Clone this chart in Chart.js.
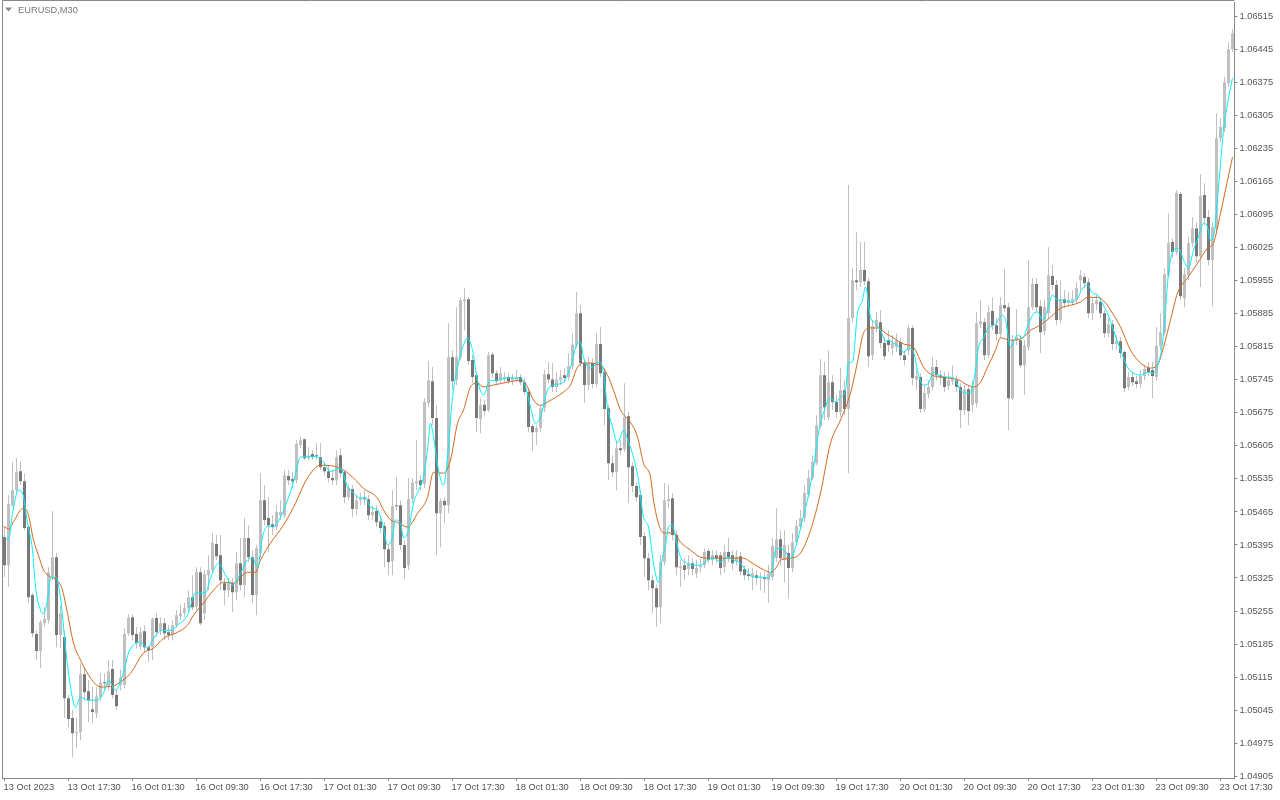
<!DOCTYPE html>
<html><head><meta charset="utf-8">
<script src="https://cdn.jsdelivr.net/npm/chart.js@4.4.1/dist/chart.umd.min.js"></script>
<style>html,body{margin:0;padding:0;background:#fff}#wrap{width:1280px;height:800px;position:relative}</style>
</head><body><div id="wrap"><canvas id="c" width="1280" height="800"></canvas></div>
<script>
const symbolLabel = "EURUSD,M30";
const timeLabels = ["13 Oct 2023","13 Oct 17:30","16 Oct 01:30","16 Oct 09:30","16 Oct 17:30","17 Oct 01:30","17 Oct 09:30","17 Oct 17:30","18 Oct 01:30","18 Oct 09:30","18 Oct 17:30","19 Oct 01:30","19 Oct 09:30","19 Oct 17:30","20 Oct 01:30","20 Oct 09:30","20 Oct 17:30","23 Oct 01:30","23 Oct 09:30","23 Oct 17:30"];
const barsPerLabel = 16;
const priceTicks = [1.04905,1.04975,1.05045,1.05115,1.05185,1.05255,1.05325,1.05395,1.05465,1.05535,1.05605,1.05675,1.05745,1.05815,1.05885,1.05955,1.06025,1.06095,1.06165,1.06235,1.06305,1.06375,1.06445,1.06515];

const opens = [1.05412,1.05352,1.05479,1.05511,1.05551,1.0553,1.05433,1.05289,1.05206,1.0517,1.05229,1.05236,1.05327,1.05369,1.05204,1.052,1.0507,1.05028,1.04996,1.04998,1.05121,1.05085,1.05047,1.05038,1.05072,1.05104,1.05096,1.05132,1.05077,1.05098,1.05098,1.05208,1.05242,1.05206,1.0518,1.05212,1.05178,1.05178,1.0524,1.05214,1.05229,1.0521,1.05204,1.05225,1.05244,1.0525,1.05261,1.05284,1.05265,1.05337,1.0525,1.05331,1.05342,1.05397,1.05373,1.05314,1.05299,1.05314,1.05295,1.05356,1.0531,1.0541,1.05369,1.05289,1.05378,1.0549,1.05452,1.05439,1.05433,1.05458,1.05458,1.05541,1.05535,1.05532,1.05607,1.05619,1.05579,1.05588,1.05585,1.05581,1.0556,1.05551,1.05537,1.05532,1.05585,1.05549,1.05496,1.05513,1.05471,1.0549,1.05494,1.05492,1.05458,1.05467,1.05445,1.05435,1.05386,1.05361,1.05479,1.05479,1.05395,1.05352,1.05492,1.05526,1.05532,1.05524,1.05696,1.05742,1.05664,1.05462,1.05488,1.05479,1.05793,1.05744,1.05793,1.05912,1.05916,1.05787,1.05755,1.05662,1.05692,1.05681,1.05799,1.05759,1.05744,1.05749,1.05751,1.05744,1.05746,1.05751,1.0574,1.05719,1.05647,1.05634,1.05643,1.05685,1.05757,1.05746,1.0573,1.05744,1.05755,1.05751,1.05774,1.05819,1.05886,1.05781,1.05734,1.05781,1.05736,1.05821,1.05761,1.05685,1.05568,1.05549,1.056,1.05598,1.05668,1.05562,1.0552,1.05501,1.05414,1.05367,1.0532,1.05303,1.05263,1.05359,1.05488,1.05494,1.05416,1.05346,1.05352,1.05344,1.05356,1.05335,1.05348,1.05352,1.05382,1.05363,1.05373,1.05373,1.05348,1.0538,1.05373,1.05361,1.05371,1.05344,1.05333,1.05327,1.05331,1.05325,1.05327,1.0532,1.05327,1.05367,1.05407,1.05363,1.05378,1.05346,1.05401,1.05433,1.05452,1.05501,1.05537,1.05568,1.05647,1.05755,1.05666,1.0574,1.05698,1.05677,1.05723,1.05683,1.05876,1.05956,1.05952,1.05978,1.05954,1.05797,1.05857,1.05867,1.05823,1.05829,1.05812,1.05814,1.05825,1.05797,1.05808,1.05855,1.05746,1.05751,1.05683,1.05715,1.0573,1.05772,1.05755,1.05751,1.05732,1.05742,1.05744,1.0573,1.05681,1.05725,1.05692,1.05696,1.05863,1.05867,1.05797,1.05891,1.05861,1.05842,1.05903,1.05899,1.05706,1.05829,1.05829,1.05776,1.05814,1.05899,1.05948,1.05901,1.05848,1.05886,1.05965,1.05946,1.05872,1.05916,1.05908,1.05908,1.05914,1.05956,1.05963,1.05952,1.05886,1.05906,1.0591,1.05886,1.05844,1.05863,1.05821,1.05827,1.05804,1.0573,1.05751,1.05742,1.05736,1.05753,1.0577,1.05766,1.05751,1.05817,1.05846,1.05967,1.06037,1.06016,1.06139,1.05918,1.05967,1.06035,1.06066,1.06007,1.06137,1.0609,1.05999,1.06066,1.06257,1.06279,1.06374,1.06446];
const highs = [1.05433,1.05501,1.05571,1.05579,1.05571,1.05547,1.05437,1.05293,1.05214,1.05236,1.05263,1.05348,1.05467,1.05378,1.05267,1.05214,1.05077,1.05045,1.0503,1.05144,1.05134,1.05108,1.05094,1.05094,1.05123,1.05123,1.05151,1.05151,1.05087,1.0513,1.05219,1.05248,1.05248,1.05221,1.05221,1.05225,1.05182,1.05242,1.0525,1.05242,1.0524,1.05225,1.05236,1.05257,1.05267,1.05272,1.05299,1.05331,1.05348,1.05348,1.05342,1.05373,1.0542,1.05416,1.05416,1.05325,1.05325,1.05325,1.0538,1.0541,1.05452,1.05437,1.05384,1.05395,1.05547,1.05522,1.05496,1.05458,1.05479,1.0549,1.05554,1.05554,1.05549,1.05617,1.05624,1.05621,1.05602,1.05596,1.05611,1.05611,1.05571,1.05564,1.05554,1.05596,1.056,1.05554,1.05522,1.05522,1.05501,1.05505,1.05511,1.05501,1.05479,1.05479,1.05458,1.05443,1.05395,1.05511,1.05539,1.0549,1.05405,1.05537,1.05537,1.05617,1.05543,1.05706,1.05785,1.05772,1.05692,1.05494,1.05496,1.05865,1.05808,1.05899,1.0592,1.05939,1.0592,1.05797,1.05761,1.05706,1.05702,1.05804,1.05804,1.05766,1.05772,1.05761,1.05759,1.05757,1.05766,1.05757,1.05749,1.05725,1.05651,1.05649,1.05692,1.05766,1.05783,1.05781,1.05761,1.05766,1.0577,1.05802,1.05844,1.05931,1.05903,1.05787,1.05793,1.05791,1.05844,1.05857,1.0577,1.05692,1.05585,1.05617,1.05617,1.05738,1.05677,1.05571,1.05528,1.05511,1.05422,1.05378,1.05331,1.0531,1.05373,1.05526,1.05522,1.05505,1.05426,1.05363,1.05367,1.05373,1.05367,1.05363,1.05367,1.05388,1.05388,1.05384,1.05384,1.0538,1.05395,1.0541,1.05384,1.05384,1.0538,1.05352,1.05346,1.05346,1.05342,1.05337,1.05337,1.05352,1.0541,1.05473,1.05426,1.05426,1.05395,1.0542,1.05448,1.05469,1.05522,1.05554,1.05585,1.0567,1.05789,1.05783,1.05808,1.05755,1.05713,1.0577,1.05744,1.06158,1.05982,1.06058,1.06037,1.06037,1.05961,1.05872,1.05889,1.05893,1.05834,1.0585,1.0584,1.05844,1.05834,1.05808,1.05861,1.05861,1.05766,1.05759,1.05734,1.05744,1.05793,1.05787,1.05766,1.05761,1.05761,1.05776,1.05755,1.05738,1.05734,1.05734,1.05744,1.05889,1.05914,1.05876,1.05903,1.0592,1.05876,1.0592,1.0598,1.05908,1.0584,1.05895,1.0584,1.05829,1.05999,1.05961,1.05961,1.05914,1.05914,1.06026,1.05988,1.05956,1.05956,1.05935,1.05931,1.05935,1.05952,1.05978,1.05971,1.05961,1.05918,1.05925,1.0592,1.05893,1.05876,1.05872,1.0584,1.05836,1.05808,1.05761,1.05761,1.05753,1.05766,1.05776,1.05783,1.05783,1.05857,1.05886,1.05982,1.06098,1.06045,1.06147,1.06143,1.05982,1.06049,1.0609,1.06079,1.06181,1.06162,1.06105,1.06079,1.0631,1.063,1.06387,1.06461,1.06489];
const lows = [1.05327,1.05306,1.05475,1.05507,1.05522,1.05426,1.05272,1.052,1.05151,1.05134,1.05221,1.05229,1.0532,1.05178,1.05176,1.05028,1.05009,1.04945,1.04964,1.04981,1.05066,1.05019,1.05017,1.05028,1.05066,1.05087,1.05087,1.0507,1.05045,1.05087,1.05091,1.05202,1.05193,1.05176,1.05172,1.05168,1.05147,1.05151,1.052,1.05204,1.05193,1.05193,1.05193,1.05219,1.05236,1.05242,1.05253,1.05257,1.05257,1.05225,1.05236,1.05299,1.05335,1.05363,1.05299,1.05267,1.05284,1.05253,1.05278,1.05299,1.05284,1.05359,1.05272,1.05246,1.05367,1.05437,1.0538,1.05416,1.05426,1.05448,1.05452,1.05522,1.05515,1.05526,1.056,1.05575,1.05575,1.05575,1.05575,1.05554,1.05543,1.05528,1.05522,1.05522,1.05537,1.05484,1.0549,1.05454,1.05458,1.05479,1.05479,1.05448,1.05448,1.05433,1.0542,1.05348,1.05331,1.05331,1.05469,1.05384,1.05323,1.05342,1.05484,1.05511,1.05511,1.05515,1.05687,1.05649,1.05373,1.0539,1.05441,1.05462,1.05723,1.05734,1.05787,1.0585,1.05776,1.05738,1.05634,1.05632,1.0567,1.05677,1.05749,1.05734,1.05738,1.0574,1.05736,1.05734,1.0574,1.05734,1.05713,1.05634,1.05594,1.05607,1.05634,1.05677,1.05738,1.05719,1.05719,1.05734,1.0574,1.05744,1.05766,1.05812,1.05772,1.05696,1.05723,1.05727,1.0573,1.05751,1.05649,1.05532,1.05539,1.05511,1.05585,1.05592,1.05484,1.05507,1.05486,1.05395,1.05327,1.05299,1.0525,1.05221,1.05229,1.05352,1.05473,1.05405,1.05331,1.05306,1.0532,1.05331,1.05331,1.05325,1.05337,1.05346,1.05356,1.05352,1.05356,1.05331,1.05335,1.05359,1.05342,1.05352,1.05331,1.0532,1.0532,1.05299,1.0531,1.05299,1.05293,1.05272,1.0532,1.05359,1.05352,1.05316,1.05282,1.05337,1.05395,1.05426,1.05443,1.05494,1.05532,1.05564,1.05643,1.0566,1.0566,1.05681,1.05664,1.05666,1.0567,1.05547,1.05867,1.05935,1.05942,1.05946,1.05772,1.05787,1.05846,1.05812,1.05787,1.05804,1.05797,1.05804,1.05787,1.05776,1.05797,1.05734,1.05723,1.05675,1.05677,1.05706,1.05723,1.05744,1.05734,1.05719,1.05723,1.05734,1.05719,1.05643,1.0567,1.05649,1.05677,1.05687,1.05855,1.05787,1.05791,1.0585,1.05829,1.05834,1.05889,1.05638,1.05702,1.05819,1.0577,1.05713,1.05808,1.05893,1.05889,1.05802,1.0584,1.05876,1.05935,1.05861,1.05865,1.05897,1.05901,1.05903,1.05908,1.05935,1.05939,1.05876,1.05872,1.05893,1.05876,1.05834,1.05836,1.05808,1.05808,1.05791,1.05719,1.05723,1.05732,1.05727,1.05727,1.05744,1.05753,1.05706,1.05744,1.05808,1.0584,1.05961,1.06003,1.0601,1.05914,1.05899,1.05956,1.06026,1.05994,1.05942,1.06073,1.05988,1.05901,1.06058,1.06249,1.0627,1.06366,1.0644];
const closes = [1.05352,1.05482,1.05511,1.05549,1.0553,1.05431,1.05284,1.05208,1.0517,1.05231,1.05238,1.05337,1.05369,1.05204,1.0525,1.0507,1.05026,1.04996,1.04998,1.05121,1.05083,1.05066,1.05041,1.05074,1.05104,1.05102,1.05127,1.05077,1.05053,1.05113,1.05206,1.0524,1.05204,1.05187,1.0521,1.05178,1.05172,1.05238,1.0521,1.05229,1.05208,1.05204,1.05225,1.05246,1.0525,1.05261,1.05284,1.05263,1.05337,1.05229,1.05333,1.05342,1.05399,1.05371,1.0532,1.05299,1.05314,1.05295,1.05356,1.0531,1.0541,1.05369,1.05289,1.05388,1.0549,1.05448,1.05437,1.05433,1.05465,1.05465,1.05543,1.05532,1.0553,1.05609,1.05617,1.05579,1.05583,1.05581,1.05583,1.0556,1.05551,1.05537,1.05532,1.05581,1.05547,1.05496,1.05515,1.05471,1.0549,1.05494,1.05492,1.05458,1.05465,1.05443,1.05431,1.05386,1.05359,1.05477,1.05477,1.05395,1.05346,1.05492,1.05528,1.0553,1.05522,1.05698,1.05744,1.05664,1.05462,1.05488,1.05479,1.05793,1.05742,1.05793,1.05914,1.05916,1.05785,1.05751,1.05664,1.05692,1.05679,1.05797,1.05759,1.05742,1.05759,1.05751,1.05742,1.05749,1.05751,1.0574,1.05719,1.05645,1.05634,1.05643,1.05685,1.05757,1.05746,1.0573,1.05746,1.05751,1.05749,1.05774,1.05819,1.05886,1.05781,1.05734,1.05781,1.05736,1.05821,1.05759,1.05683,1.05568,1.05549,1.056,1.05596,1.05666,1.0556,1.0552,1.05496,1.05412,1.05367,1.0532,1.05303,1.05263,1.05359,1.0549,1.05492,1.05416,1.05348,1.0535,1.05342,1.05356,1.05344,1.05346,1.05352,1.0538,1.05363,1.05373,1.05367,1.05346,1.0538,1.05369,1.05356,1.05371,1.05339,1.05331,1.05329,1.05335,1.05325,1.05327,1.05323,1.05335,1.05393,1.05407,1.05367,1.05395,1.05346,1.05401,1.05435,1.05452,1.05505,1.05537,1.05571,1.05649,1.05755,1.05687,1.0574,1.05698,1.05677,1.05723,1.05683,1.05876,1.05956,1.05952,1.05978,1.05954,1.05795,1.05859,1.05872,1.05823,1.05795,1.05819,1.05823,1.05829,1.05797,1.05787,1.05855,1.05749,1.05753,1.05683,1.05717,1.0573,1.05772,1.05755,1.05751,1.0573,1.05744,1.05746,1.0573,1.05681,1.05725,1.05679,1.05732,1.05865,1.0587,1.05797,1.05889,1.05861,1.05842,1.05903,1.05897,1.05706,1.05829,1.05836,1.05776,1.05817,1.05899,1.05948,1.05899,1.05846,1.05899,1.05967,1.05946,1.05872,1.05916,1.05908,1.05914,1.05916,1.05939,1.05967,1.0595,1.05886,1.05908,1.05914,1.05886,1.05844,1.05863,1.05821,1.05827,1.05802,1.05727,1.05751,1.0574,1.05736,1.05753,1.05768,1.05761,1.05753,1.05817,1.05846,1.05969,1.06035,1.06016,1.06141,1.05922,1.05969,1.06035,1.06066,1.06007,1.06135,1.06088,1.05999,1.06069,1.06257,1.06281,1.06376,1.06446,1.0648];

const fastMaBar = [0,1,2,3.5,4.5,5.75,7,7.75,9,9.75,10.75,11.5,12.75,14,15.25,16.5,17.75,19,20.75,23.25,24.75,26,27.75,29.75,31,32.25,34,35.75,37.25,39.5,41.5,43.25,45.75,47.75,50.25,51.5,53.5,55.25,57,59,60.75,62,63.25,64.5,65.75,67.25,69,70.75,72.25,74,75.75,78.25,79.75,81.5,84,85.75,87.25,89,90.25,91.5,93.25,94.5,95.75,97,97.75,99,99.75,101,102.25,103.5,104.75,105.75,106.5,107.25,108.5,109.75,110.75,112,113.5,114.75,115.75,117,118.25,119.75,121.5,122.75,125.75,129,130.25,131.5,132.75,134,135.75,137.25,139.75,141.5,143.25,144,144.75,146.5,148.25,149,149.75,150.75,152,153.25,154.75,156,157.25,158.5,159.75,161,162.25,163.5,164.5,165.25,166,167,167.75,169,170.75,172.25,174,175.75,177.25,179,180.75,182.25,184,185.75,187.25,189,190.75,192,192.75,194,195.25,196.5,197.75,199.5,201,202.25,203.5,204.75,206.5,207.75,209,210.25,211,212,213.25,214.5,215.25,216.5,217.75,219,220.25,221,222.25,224,224.75,226,227.25,228.5,229.75,231,232.25,233.5,235.75,237.25,239,240.25,241.5,242.75,243.5,244.75,246,247.75,249.5,250.25,251.5,253.25,254.5,255.75,257,258.25,259.5,260.75,262,263.25,264.75,266.5,268.25,269.5,270.75,272,273.25,274.5,275.75,277.25,279,280.75,282.25,284,285.75,287.25,288.5,289.5,290.25,291,292.25,293.5,294.75,296,297.25,298.5,299.75,300.75,301.5,302.25,303.5,304.75,306,307];
const fastMaVal = [1.05412,1.05405,1.05462,1.05511,1.05505,1.05441,1.05384,1.05306,1.05257,1.0525,1.05278,1.05325,1.05327,1.05284,1.05178,1.05094,1.05051,1.05072,1.05066,1.05066,1.05081,1.05108,1.05087,1.05125,1.05166,1.05183,1.05189,1.05176,1.05197,1.05214,1.05214,1.05225,1.05246,1.05293,1.05293,1.05325,1.05356,1.05331,1.0531,1.05335,1.05363,1.05367,1.05348,1.05412,1.05435,1.05433,1.05454,1.0549,1.05528,1.05581,1.05583,1.05581,1.05571,1.05551,1.05558,1.05518,1.05505,1.05494,1.05496,1.05475,1.05469,1.05441,1.05395,1.05412,1.05448,1.05441,1.0541,1.05426,1.05484,1.05511,1.05539,1.05596,1.05653,1.05624,1.05554,1.05522,1.05581,1.05708,1.05781,1.05819,1.05834,1.05808,1.05744,1.05713,1.05744,1.05744,1.05749,1.05749,1.0573,1.05687,1.05653,1.05666,1.05723,1.05734,1.0574,1.05772,1.05823,1.05825,1.05793,1.0577,1.05781,1.05783,1.05759,1.05687,1.05645,1.05611,1.05638,1.05613,1.05581,1.05532,1.05454,1.05433,1.05356,1.05316,1.05369,1.05395,1.05433,1.05437,1.05412,1.05369,1.05356,1.05352,1.05352,1.05363,1.05367,1.05359,1.05369,1.05363,1.05356,1.05337,1.05327,1.05327,1.05325,1.05346,1.05384,1.05388,1.0538,1.05367,1.0539,1.05448,1.05501,1.0556,1.05632,1.05675,1.05706,1.05698,1.05708,1.05723,1.05781,1.05783,1.05886,1.05914,1.05942,1.05878,1.05865,1.0585,1.05827,1.05829,1.05823,1.05812,1.05802,1.05812,1.05804,1.05755,1.05734,1.05738,1.05761,1.05755,1.05751,1.05749,1.05723,1.05717,1.05717,1.05766,1.05814,1.05834,1.05855,1.05863,1.05882,1.05872,1.05814,1.0584,1.05834,1.05857,1.05882,1.05889,1.05872,1.05893,1.05925,1.05914,1.05914,1.0591,1.05918,1.05939,1.05946,1.05929,1.05925,1.05906,1.05886,1.0585,1.05808,1.05772,1.05759,1.05755,1.05761,1.05759,1.05781,1.05823,1.05893,1.05971,1.0602,1.06024,1.05999,1.05982,1.0602,1.06048,1.06077,1.06069,1.06041,1.06048,1.06154,1.06274,1.06342,1.06385];
const slowMaBar = [-0.25,1,2.5,4,5,6,7.25,8.5,9.75,11.5,13.25,14.5,15.75,17.25,19,21.5,24,27.25,28.5,31.5,34.75,37.25,39.75,43.25,45.75,47.25,49.75,52.25,54.75,57.25,60.75,62.75,64,66.5,69.75,72.25,75.75,79,82.25,84.75,87.25,89.75,93.25,94.75,96.5,98.25,100.75,103.25,105.75,107.25,109.75,111.5,113.25,114.75,116.5,118.25,119.75,122.25,125.75,129,130.75,132.25,134,135.75,137.75,139.75,141.5,143.25,144.75,149,150.75,152.25,154,156.5,158.25,159.75,161.5,162.25,163.25,164.5,165.75,167.25,169,171.5,174,176.5,184.75,186.5,189,191.5,193,194,196.5,199,201.5,204,206.5,209,211.5,213.25,214.75,216.5,218.5,220.25,222.25,224.75,227.25,229.75,231.5,235.75,238.25,240.75,242.25,244,245.75,247.75,249,251.5,254.5,256.5,259,261.5,264,266.5,269,270.75,273.25,275.25,276.5,279,281.5,284,286.5,288.25,289.75,291.5,293.25,295.75,298.25,300.75,302.25,304,305.75,307];
const slowMaVal = [1.05435,1.05429,1.05448,1.05469,1.05473,1.05458,1.05405,1.05373,1.05342,1.05327,1.0532,1.05299,1.0525,1.05187,1.05151,1.05113,1.05094,1.05096,1.05102,1.05123,1.05166,1.05176,1.05197,1.0521,1.05225,1.05246,1.05272,1.05299,1.05316,1.05314,1.05337,1.05337,1.05363,1.05399,1.05437,1.05475,1.05537,1.05564,1.05562,1.05554,1.05537,1.05515,1.05494,1.05469,1.05448,1.05443,1.05433,1.05462,1.05496,1.05549,1.05547,1.05575,1.05653,1.05681,1.0573,1.05738,1.0573,1.05734,1.0574,1.05744,1.0573,1.05702,1.05691,1.05698,1.05708,1.05719,1.05734,1.05772,1.05781,1.05776,1.05755,1.05723,1.05681,1.05655,1.05624,1.05568,1.05539,1.0549,1.05448,1.05422,1.0542,1.05422,1.05401,1.05384,1.05369,1.05367,1.05367,1.05359,1.05346,1.05337,1.05348,1.05363,1.05367,1.05378,1.05426,1.05505,1.05611,1.0566,1.05717,1.05783,1.05844,1.05855,1.05855,1.05844,1.05834,1.05821,1.05814,1.05772,1.05757,1.05749,1.05746,1.05734,1.0573,1.0574,1.05772,1.05808,1.05834,1.05829,1.05834,1.0585,1.05861,1.05878,1.05897,1.05903,1.0591,1.0592,1.0592,1.05908,1.05893,1.05857,1.05808,1.05781,1.0577,1.05776,1.05814,1.05872,1.05929,1.05961,1.05992,1.06024,1.06035,1.06098,1.06168,1.06217];

const upBody = '#c0c0c0', downBody = '#787878', wickColor = '#c0c0c0';
const fastColor = '#00f0ff', slowColor = '#d2691e';
const axisColor = '#888888', textColor = '#555555';
const fontFamily = '"Liberation Sans", Arial, sans-serif';

const overlay = {
  id: 'overlay',
  afterDraw(chart) {
    const {ctx, chartArea: a} = chart;
    ctx.save();
    ctx.strokeStyle = axisColor;
    ctx.lineWidth = 1;
    ctx.beginPath();
    ctx.moveTo(a.left, a.bottom);
    ctx.lineTo(a.left, a.top - 1.5);
    ctx.lineTo(a.right, a.top - 1.5);
    ctx.stroke();
    ctx.fillStyle = '#8a8a8a';
    ctx.beginPath();
    ctx.moveTo(a.left + 2.5, a.top + 5.5);
    ctx.lineTo(a.left + 9.5, a.top + 5.5);
    ctx.lineTo(a.left + 6, a.top + 9.5);
    ctx.closePath();
    ctx.fill();
    ctx.fillStyle = '#777777';
    ctx.font = '9.3px ' + fontFamily;
    ctx.textBaseline = 'middle';
    ctx.textAlign = 'left';
    ctx.fillText(symbolLabel, a.left + 15.5, a.top + 8);
    ctx.restore();
  }
};

new Chart(document.getElementById('c'), {
  type: 'bar',
  data: {
    datasets: [
      { type: 'line', data: fastMaBar.map((x, k) => ({x, y: fastMaVal[k]})), borderColor: fastColor, borderWidth: 1, pointRadius: 0, cubicInterpolationMode: 'monotone', order: 0 },
      { type: 'line', data: slowMaBar.map((x, k) => ({x, y: slowMaVal[k]})), borderColor: slowColor, borderWidth: 1, pointRadius: 0, cubicInterpolationMode: 'monotone', order: 1 },
      { type: 'bar', data: opens.map((o, i) => ({x: i, y: [o, closes[i]]})), backgroundColor: opens.map((o, i) => closes[i] >= o ? upBody : downBody), barThickness: 3, minBarLength: 1, grouped: false, inflateAmount: 0, order: 2 },
      { type: 'bar', data: lows.map((l, i) => ({x: i, y: [l, highs[i]]})), backgroundColor: wickColor, barThickness: 1, grouped: false, inflateAmount: 0, order: 3 }
    ]
  },
  options: {
    responsive: false,
    animation: false,
    events: [],
    layout: { padding: { left: 2.5, top: 2, right: 0, bottom: 0 } },
    plugins: { legend: { display: false }, tooltip: { enabled: false }, title: { display: false } },
    scales: {
      x: {
        type: 'linear', min: -0.5, max: opens.length - 0.5, offset: false,
        afterBuildTicks: s => { s.ticks = timeLabels.map((_, k) => ({ value: k * barsPerLabel })); },
        afterFit: s => { s.height = 22; s.paddingLeft = 0; s.paddingRight = 0; },
        ticks: { autoSkip: false, maxRotation: 0, minRotation: 0, align: 'start', labelOffset: -1, padding: 1, color: textColor, font: { family: fontFamily, size: 9.3 },
          callback: v => timeLabels[Math.round(v / barsPerLabel)] },
        grid: { drawOnChartArea: false, drawTicks: true, tickLength: 3, color: axisColor, offset: false },
        border: { display: true, color: axisColor }
      },
      y: {
        type: 'linear', position: 'right', min: 1.04901, max: 1.06546,
        afterBuildTicks: s => { s.ticks = priceTicks.map(v => ({ value: v })); },
        afterFit: s => { s.width = 45.5; s.paddingTop = 0; s.paddingBottom = 0; },
        ticks: { color: textColor, padding: 2, font: { family: fontFamily, size: 9.3 }, callback: v => v.toFixed(5) },
        grid: { drawOnChartArea: false, drawTicks: true, tickLength: 3, color: axisColor },
        border: { display: true, color: axisColor }
      }
    }
  },
  plugins: [overlay]
});
</script>
</body></html>
